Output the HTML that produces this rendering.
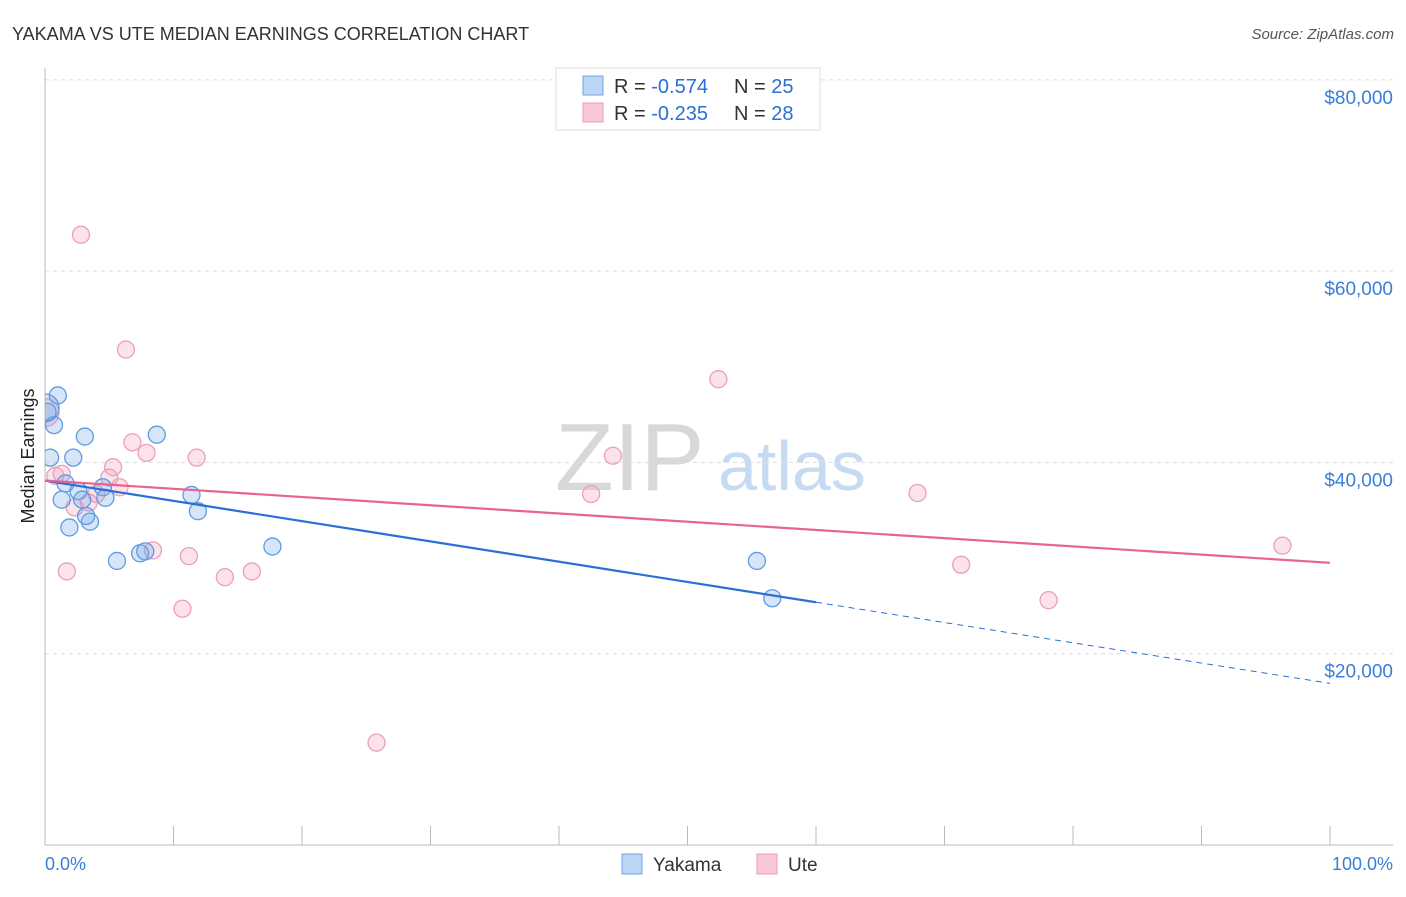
<!DOCTYPE html>
<html><head><meta charset="utf-8"><style>
body{margin:0;background:#fff;font-family:"Liberation Sans",sans-serif;}
svg text{font-family:"Liberation Sans",sans-serif;}
</style></head><body>
<svg id="c" width="1406" height="892">
<defs><clipPath id="plot"><rect x="45" y="60" width="1360" height="785"/></clipPath></defs>
<text x="12" y="40" font-size="18" fill="#333">YAKAMA VS UTE MEDIAN EARNINGS CORRELATION CHART</text>
<text x="1394" y="39" font-size="15" fill="#555" text-anchor="end" font-style="italic">Source: ZipAtlas.com</text>
<text x="555" y="490" font-size="96" fill="#d8d8d8" font-family="Liberation Serif,serif">ZIP</text>
<text x="718" y="490" font-size="70" fill="#c6dbf2">atlas</text>
<text transform="translate(34,456) rotate(-90)" font-size="18" fill="#222" text-anchor="middle">Median Earnings</text>
<g id="grid"></g><g id="marks" clip-path="url(#plot)"></g>
<g>
<rect x="556" y="68" width="264" height="62" fill="#fff" stroke="#ddd"/>
<rect x="583" y="76" width="20" height="19" fill="#bcd6f6" stroke="#6fa3e3"/>
<text x="614" y="93" font-size="20" fill="#333">R = <tspan fill="#2a6fd6">-0.574</tspan><tspan x="734">N = </tspan><tspan fill="#2a6fd6">25</tspan></text>
<rect x="583" y="103" width="20" height="19" fill="#f9c8d7" stroke="#ec9ab4"/>
<text x="614" y="120" font-size="20" fill="#333">R = <tspan fill="#2a6fd6">-0.235</tspan><tspan x="734">N = </tspan><tspan fill="#2a6fd6">28</tspan></text>
</g>
<g>
<rect x="622" y="854" width="20" height="20" fill="#bcd6f6" stroke="#6fa3e3"/>
<text x="653" y="871" font-size="19" fill="#333">Yakama</text>
<rect x="757" y="854" width="20" height="20" fill="#f9c8d7" stroke="#ec9ab4"/>
<text x="788" y="871" font-size="19" fill="#333">Ute</text>
</g>
<text x="45" y="870" font-size="18" fill="#3b7dd8">0.0%</text>
<text x="1393" y="870" font-size="18" fill="#3b7dd8" text-anchor="end">100.0%</text>
</svg>
<script>
const yTicks=[20000,40000,60000,80000];
const yTickLabels=["$20,000","$40,000","$60,000","$80,000"];
const yakamaX=[1.0,0.7,0.4,3.1,2.2,8.7,1.6,2.6,1.3,2.9,4.5,4.7,3.5,3.2,1.9,5.6,7.4,7.8,11.4,11.9,17.7,55.4,56.6,0.0,0.2];
const yakamaY=[47000,43900,40500,42700,40500,42900,37800,37000,36100,36100,37400,36300,33800,34400,33200,29700,30500,30700,36600,34900,31200,29700,25800,45700,45300];
const uteX=[2.8,6.3,52.4,0.0,6.8,7.9,11.8,44.2,1.3,0.8,5.3,5.0,5.8,4.0,2.3,3.4,42.5,67.9,8.4,11.2,1.7,14.0,16.1,10.7,71.3,78.1,96.3,25.8];
const uteY=[63800,51800,48700,45200,42100,41000,40500,40700,38800,38600,39500,38400,37400,36700,35300,35800,36700,36800,30800,30200,28600,28000,28600,24700,29300,25600,31300,10700];
const yakamaTrend=[38100,16900];
const uteTrend=[38100,29500];
const yakamaSolidEnd=60;
const NS='http://www.w3.org/2000/svg';
const sx=v=>45+v*12.85, sy=v=>845-v/104.55;
function mk(t,a,p){const e=document.createElementNS(NS,t);for(const k in a)e.setAttribute(k,a[k]);p.appendChild(e);return e;}
const grid=document.getElementById('grid'),marks=document.getElementById('marks');
yTicks.forEach((v,i)=>{
 const l=mk('line',{x1:45,x2:1393,y1:sy(v),y2:sy(v),stroke:'#ddd','stroke-dasharray':'4,4'},grid);
 
 
 const t=mk('text',{x:1393,y:sy(v)+24,'font-size':19,fill:'#3b7dd8','text-anchor':'end'},grid);
 t.textContent=yTickLabels[i];
 
 
});
const ax=mk('line',{x1:45,x2:45,y1:68,y2:845,stroke:'#bbb'},grid);


const bx=mk('line',{x1:45,x2:1393,y1:845,y2:845,stroke:'#bbb'},grid);


for(let i=0;i<=10;i++){const t=mk('line',{x1:sx(i*10),x2:sx(i*10),y1:826,y2:845,stroke:'#bbb'},grid);
 
 }
function pts(X,Y,fill,stroke,name){X.forEach((x,i)=>{const big=(x===0);
 const c=mk('circle',{cx:sx(x),cy:sy(Y[i]),r:big?14:8.5,fill:fill,stroke:stroke,'stroke-width':1.3},marks);
 
 });}
pts(uteX,uteY,'rgba(242,160,188,0.3)','#eba0b8','ute-point');
pts(yakamaX,yakamaY,'rgba(120,170,232,0.3)','#5d9be2','yakama-point');
const yv=p=>yakamaTrend[0]+(yakamaTrend[1]-yakamaTrend[0])*p/100;
const l1=mk('line',{x1:sx(0),y1:sy(yv(0)),x2:sx(yakamaSolidEnd),y2:sy(yv(yakamaSolidEnd)),stroke:'#2a6fd6','stroke-width':2.2},marks);


const l2=mk('line',{x1:sx(yakamaSolidEnd),y1:sy(yv(yakamaSolidEnd)),x2:sx(100),y2:sy(yv(100)),stroke:'#2a6fd6','stroke-width':1,'stroke-dasharray':'6,5'},marks);


const l3=mk('line',{x1:sx(0),y1:sy(uteTrend[0]),x2:sx(100),y2:sy(uteTrend[1]),stroke:'#e8638f','stroke-width':2.2},marks);


</script>
</body></html>
